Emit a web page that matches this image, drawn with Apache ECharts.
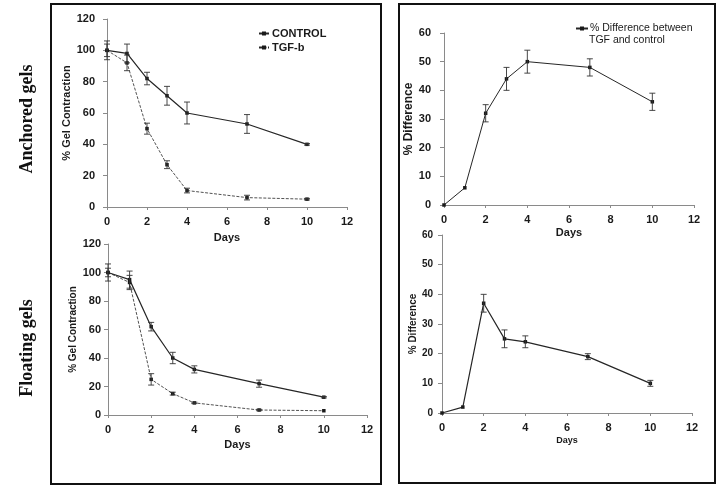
<!DOCTYPE html>
<html>
<head>
<meta charset="utf-8">
<script src="https://cdn.jsdelivr.net/npm/echarts@6/dist/echarts.min.js"></script>
<style>
html,body{margin:0;padding:0;background:#fff;}
#chart{width:720px;height:489px;}
</style>
</head>
<body>
<div id="chart"></div>
<script>
// ---- data ----
var days = [0, 1, 2, 3, 4, 7, 10];
var xTicks = [0, 2, 4, 6, 8, 10, 12];

var anchoredControl    = [100, 98, 82, 71, 60, 53, 40];
var anchoredControlErr = [4, 6, 4, 6, 7, 6, 0.5];
var anchoredTgf        = [100, 92, 50, 27, 10.5, 6, 5];
var anchoredTgfErr     = [6, 5, 3.5, 2.5, 1.5, 1.5, 0.5];

var floatingControl    = [100, 95, 62, 40, 32, 22, 12.5];
var floatingControlErr = [6, 6, 3, 4, 2.5, 2.5, 0.5];
var floatingTgf        = [100, 93, 25, 15, 8.5, 3.5, 3];
var floatingTgfErr     = [3, 5, 4, 1, 0.5, 0.5, 0.3];

var anchoredDiff    = [0, 6, 32, 44, 50, 48, 36];
var anchoredDiffErr = [0, 0.3, 3, 4, 4, 3, 3];
var floatingDiff    = [0, 2, 37, 25, 24, 19, 10];
var floatingDiffErr = [0, 0.3, 3, 3, 2, 1, 1];

var rowLabels = ['Anchored gels', 'Floating gels'];
var seriesNames = ['CONTROL', 'TGF-b', '% Difference between TGF and control'];
var diffLegendLines = ['% Difference between', 'TGF and control'];

function pairs(vals) { return days.map(function (d, i) { return [d, vals[i]]; }); }
function errs(vals, e) { return days.map(function (d, i) { return [d, vals[i] - e[i], vals[i] + e[i]]; }); }

var INK = '#1a1a1a';
var LINE = '#262626';
var AXIS = '#8a8a8a';
var SANS = 'Liberation Sans, Arial, sans-serif';

function errSeries(data, xi) {
  return {
    type: 'custom', xAxisIndex: xi, yAxisIndex: xi, silent: true, z: 5,
    data: data,
    renderItem: function (params, api) {
      var x = api.value(0), lo = api.value(1), hi = api.value(2);
      if (hi - lo < 0.8) return null;
      var p1 = api.coord([x, hi]), p2 = api.coord([x, lo]);
      var w = 3;
      var st = { stroke: '#333', lineWidth: 0.9 };
      return { type: 'group', children: [
        { type: 'line', shape: { x1: p1[0], y1: p1[1], x2: p2[0], y2: p2[1] }, style: st },
        { type: 'line', shape: { x1: p1[0] - w, y1: p1[1], x2: p1[0] + w, y2: p1[1] }, style: st },
        { type: 'line', shape: { x1: p2[0] - w, y1: p2[1], x2: p2[0] + w, y2: p2[1] }, style: st }
      ]};
    }
  };
}

function xAx(gi, gap, nameSize) {
  return {
    gridIndex: gi, type: 'value', min: xTicks[0], max: xTicks[xTicks.length - 1], interval: 2,
    name: 'Days', nameLocation: 'middle', nameGap: gap,
    nameTextStyle: { fontFamily: SANS, fontWeight: 'bold', fontSize: nameSize, color: INK },
    axisLine: { lineStyle: { color: AXIS, width: 1 } },
    axisTick: { show: true, length: 3, lineStyle: { color: AXIS } },
    axisLabel: { fontFamily: SANS, fontWeight: 'bold', fontSize: 11, color: INK, margin: 9 },
    splitLine: { show: false }
  };
}
function yAx(gi, max, interval, name, gap, nameSize, labelSize, margin) {
  return {
    gridIndex: gi, type: 'value', min: 0, max: max, interval: interval,
    name: name, nameLocation: 'middle', nameGap: gap,
    nameTextStyle: { fontFamily: SANS, fontWeight: 'bold', fontSize: nameSize, color: INK },
    axisLine: { show: true, lineStyle: { color: AXIS, width: 1 } },
    axisTick: { show: true, length: 4, lineStyle: { color: AXIS } },
    axisLabel: { fontFamily: SANS, fontWeight: 'bold', fontSize: labelSize, color: INK, margin: margin },
    splitLine: { show: false }
  };
}
function lineSeries(name, vals, xi, dashed, width) {
  return {
    name: name, type: 'line', xAxisIndex: xi, yAxisIndex: xi, data: pairs(vals),
    symbol: 'rect', symbolSize: 3.5, showSymbol: true, z: 4,
    itemStyle: { color: INK },
    lineStyle: { color: LINE, width: width, type: dashed ? [3, 1.5] : 'solid' }
  };
}

var chart = echarts.init(document.getElementById('chart'), null, { renderer: 'canvas' });
chart.setOption({
  animation: false,
  backgroundColor: '#fff',
  grid: [
    { left: 107, top: 19, width: 240, height: 188 },
    { left: 108, top: 244, width: 259, height: 171 },
    { left: 444, top: 33, width: 250, height: 172 },
    { left: 442, top: 235, width: 250, height: 178 }
  ],
  xAxis: [ xAx(0, 25, 11), xAx(1, 24, 11), xAx(2, 22, 11), xAx(3, 23, 9) ],
  yAxis: [
    yAx(0, 120, 20, '% Gel Contraction', 26, 11, 11, 12),
    yAx(1, 120, 20, '% Gel Contraction', 29, 10, 11, 7),
    yAx(2, 60, 10, '% Difference', 24, 12, 11, 13),
    yAx(3, 60, 10, '% Difference', 22, 10, 10, 9)
  ],
  legend: [
    {
      data: [seriesNames[0], seriesNames[1]], orient: 'vertical', left: 258, top: 28, padding: 0,
      itemWidth: 10, itemHeight: 5, itemGap: 3,
      textStyle: { fontFamily: SANS, fontWeight: 'bold', fontSize: 11, color: INK, padding: [0, 0, 0, -2] }
    },
    {
      data: [seriesNames[2]], orient: 'vertical', left: 575, top: 23, padding: 0,
      itemWidth: 12, itemHeight: 5,
      formatter: function () { return diffLegendLines[0]; },
      textStyle: { fontFamily: SANS, fontSize: 10.5, color: INK, padding: [0, 0, 0, -3] }
    }
  ],
  graphic: [
    { type: 'rect', shape: { x: 51, y: 4, width: 330, height: 480 }, style: { fill: 'none', stroke: '#111', lineWidth: 2 } },
    { type: 'rect', shape: { x: 399, y: 4, width: 316, height: 479 }, style: { fill: 'none', stroke: '#111', lineWidth: 2 } },
    { type: 'text', x: 589, y: 40,
      style: { text: diffLegendLines[1], font: '10.5px "Liberation Sans", Arial, sans-serif', fill: INK, textAlign: 'left', textVerticalAlign: 'middle' } },
    { type: 'text', x: 27, y: 119, rotation: Math.PI / 2,
      style: { text: rowLabels[0], font: 'bold 18px "Liberation Serif", "Times New Roman", serif', fill: '#111', textAlign: 'center', textVerticalAlign: 'middle' } },
    { type: 'text', x: 27, y: 348, rotation: Math.PI / 2,
      style: { text: rowLabels[1], font: 'bold 18px "Liberation Serif", "Times New Roman", serif', fill: '#111', textAlign: 'center', textVerticalAlign: 'middle' } }
  ],
  series: [
    lineSeries(seriesNames[0], anchoredControl, 0, false, 1.2),
    lineSeries(seriesNames[1], anchoredTgf, 0, true, 0.8),
    errSeries(errs(anchoredControl, anchoredControlErr), 0),
    errSeries(errs(anchoredTgf, anchoredTgfErr), 0),

    lineSeries(seriesNames[0], floatingControl, 1, false, 1.2),
    lineSeries(seriesNames[1], floatingTgf, 1, true, 0.8),
    errSeries(errs(floatingControl, floatingControlErr), 1),
    errSeries(errs(floatingTgf, floatingTgfErr), 1),

    lineSeries(seriesNames[2], anchoredDiff, 2, false, 1),
    errSeries(errs(anchoredDiff, anchoredDiffErr), 2),

    { name: 'floatingDiff', type: 'line', xAxisIndex: 3, yAxisIndex: 3, data: pairs(floatingDiff),
      symbol: 'rect', symbolSize: 3.5, itemStyle: { color: INK }, lineStyle: { color: LINE, width: 1.2 }, z: 4 },
    errSeries(errs(floatingDiff, floatingDiffErr), 3)
  ]
});
</script>
</body>
</html>
